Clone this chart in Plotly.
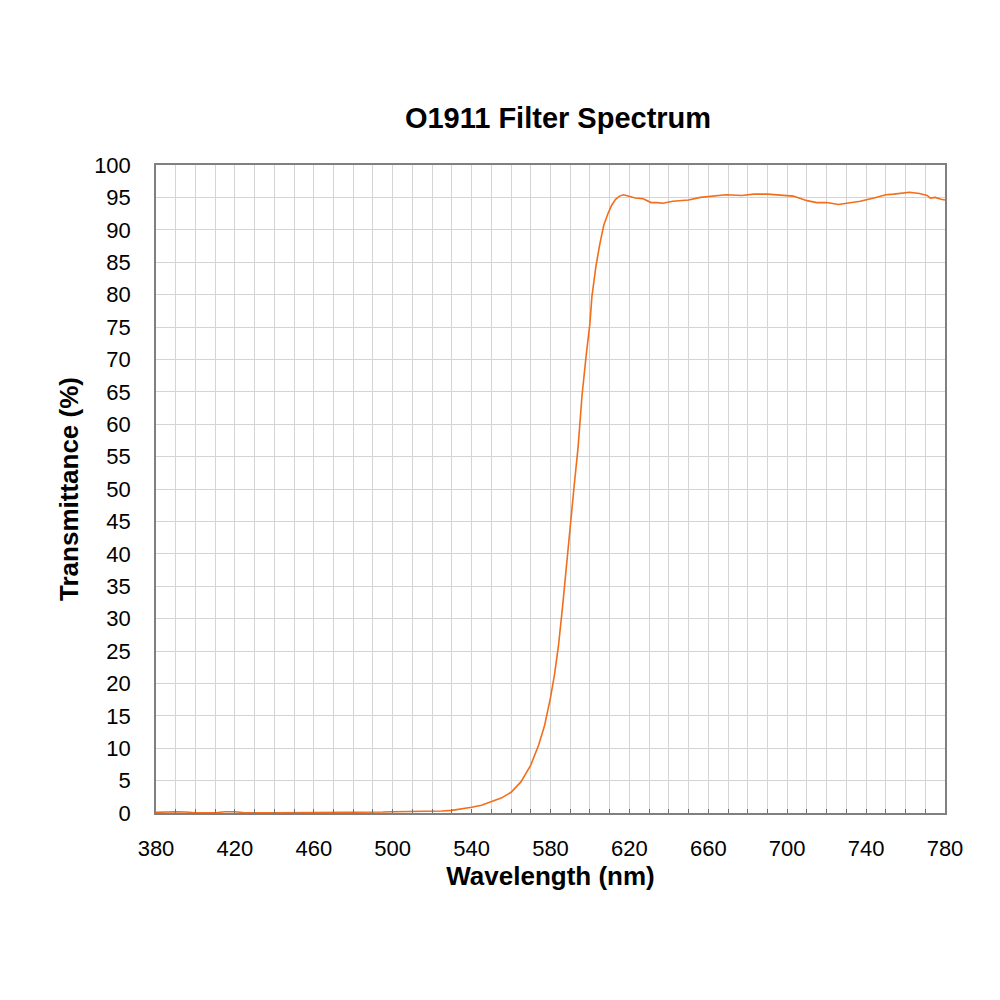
import plotly.graph_objects as go

wavelength = [380, 385, 390, 395, 400, 410, 415, 420, 425, 440, 460, 480, 495, 500, 510, 520,
              525, 530, 535, 540, 545, 550, 555, 560, 565, 570, 574, 577, 580, 582, 584, 586,
              588, 590, 592, 594, 596, 598, 600, 601, 603, 605, 607, 609, 611, 613, 615, 617,
              620, 623, 627, 631, 634, 637, 642, 646, 650, 656, 663, 669, 677, 683, 690, 695,
              700, 703, 706, 710, 715, 720, 726, 730, 737, 744, 750, 754, 758, 762, 767, 771,
              772.5, 775, 778, 780]
transmittance = [0.1, 0.2, 0.2, 0.15, 0.05, 0.05, 0.2, 0.2, 0.05, 0.05, 0.05, 0.05, 0.15, 0.2, 0.2, 0.2,
                 0.3, 0.4, 0.6, 0.9, 1.2, 1.7, 2.3, 3.2, 4.8, 7.4, 10.5, 13.5, 17.8, 21.3, 25.7, 31.5,
                 38.0, 45.0, 50.5, 56.5, 64.5, 70.4, 75.6, 79.7, 84.3, 87.8, 90.7, 92.4, 93.8, 94.7, 95.2, 95.4,
                 95.2, 94.9, 94.8, 94.2, 94.2, 94.1, 94.4, 94.5, 94.6, 95.0, 95.2, 95.4, 95.3, 95.5, 95.5, 95.4,
                 95.2, 95.2, 94.9, 94.5, 94.2, 94.2, 93.9, 94.1, 94.4, 94.9, 95.4, 95.5, 95.6, 95.8, 95.6, 95.3,
                 94.9, 95.0, 94.7, 94.6]

title_text = "O1911 Filter Spectrum"
x_title = "Wavelength (nm)"
y_title = "Transmittance (%)"

fig = go.Figure()
fig.add_trace(go.Scatter(x=wavelength, y=transmittance, mode="lines",
                         line=dict(color="#F26E1A", width=1.6), showlegend=False))

font_family = "Liberation Sans, Arial, sans-serif"
fig.update_layout(
    width=1000, height=1000,
    paper_bgcolor="white", plot_bgcolor="white",
    margin=dict(l=148, r=63, t=157, b=195),
    font=dict(family=font_family, color="black", size=22),
    title=dict(text="<b>" + title_text + "</b>", x=0.55, xanchor="center",
               y=1 - 110 / 1000, yanchor="middle", font=dict(size=29, family=font_family)),
)
fig.update_xaxes(
    range=[380, 780], tick0=380, dtick=40, showgrid=True, gridcolor="#d4d4d4", gridwidth=1,
    ticks="inside", ticklen=4, tickcolor="#707070",
    minor=dict(dtick=10, tick0=380, showgrid=True, gridcolor="#d4d4d4", gridwidth=1,
               ticks="inside", ticklen=4, tickcolor="#707070"),
    showline=True, linecolor="#808080", linewidth=1.5, mirror=True, zeroline=False,
    tickfont=dict(size=22), ticklabelstandoff=15,
    title=dict(text="<b>" + x_title + "</b>", font=dict(size=26), standoff=6),
)
fig.update_yaxes(
    range=[0, 100], tick0=0, dtick=5, showgrid=True, gridcolor="#d4d4d4", gridwidth=1,
    showline=True, linecolor="#808080", linewidth=1.5, mirror=True, zeroline=False,
    tickfont=dict(size=22), ticks="", ticklabelstandoff=19,
    title=dict(text="<b>" + y_title + "</b>", font=dict(size=26), standoff=8),
)

fig.write_html("out.html")
